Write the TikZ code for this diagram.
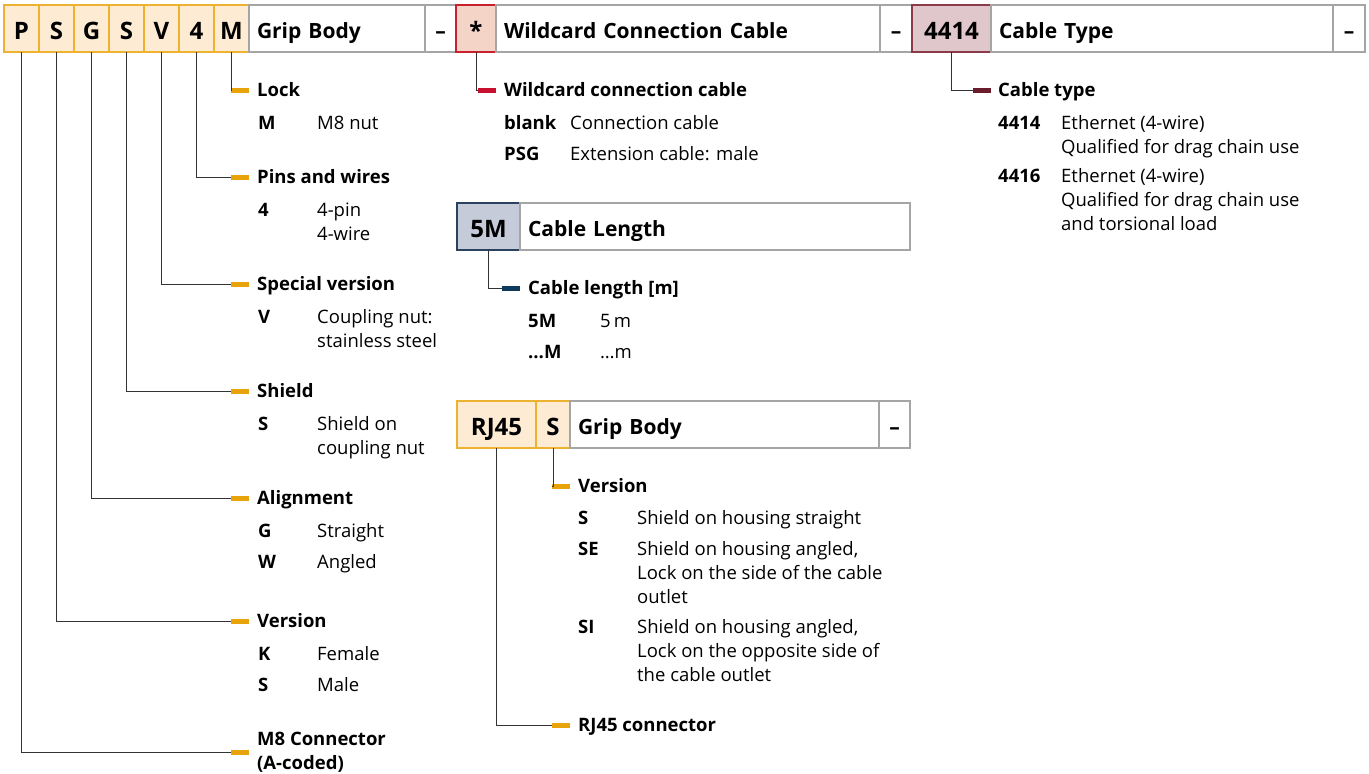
\documentclass[tikz,border=0pt]{standalone}
\usepackage{fontspec}
\setmainfont{Open Sans}
\usetikzlibrary{positioning}

\definecolor{ylfill}{HTML}{FDEBD3}
\definecolor{ylline}{HTML}{EDB22F}
\definecolor{yltick}{HTML}{E8A20A}
\definecolor{rdfill}{HTML}{F5D4C8}
\definecolor{rdline}{HTML}{C8202F}
\definecolor{rdtick}{HTML}{C8102E}
\definecolor{mrfill}{HTML}{E0C7CB}
\definecolor{mrline}{HTML}{8B3A4A}
\definecolor{mrtick}{HTML}{6A1B2C}
\definecolor{blfill}{HTML}{C5CBD9}
\definecolor{blline}{HTML}{2A4260}
\definecolor{bltick}{HTML}{0E3A5E}
\definecolor{grline}{HTML}{A5A5A5}
\definecolor{wirecol}{HTML}{333333}

% first line on the baseline
\newcommand{\desclines}[1]{\begin{tabular}[t]{@{}l@{}}#1\end{tabular}}

\begin{document}
\begin{tikzpicture}[
  x=1pt, y=-1pt,
  font=\fontsize{18.5}{24}\selectfont,
  keybox/.style={draw=#1line, fill=#1fill, line width=1.2pt, minimum height=47pt,
    inner xsep=3pt, inner ysep=0pt, outer sep=0pt, text height=21pt, text depth=0pt,
    font=\fontsize{24}{24}\selectfont\bfseries},
  titlebox/.style={draw=grline, line width=1.2pt, minimum height=47pt, inner xsep=8pt,
    inner ysep=0pt, outer sep=0pt, text width=#1, align=left, text height=19pt,
    text depth=0pt, font=\fontsize{21}{21}\selectfont\bfseries},
  dashbox/.style={draw=grline, line width=1.2pt, minimum height=47pt, inner sep=0pt,
    outer sep=0pt, text height=19pt, text depth=0pt,
    font=\fontsize{21}{21}\selectfont\bfseries},
  tickmark/.style={fill=#1, minimum width=18pt, minimum height=5pt, inner sep=0pt,
    outer sep=0pt, anchor=east},
  lab/.style={anchor=west, inner sep=0pt, text height=13.3pt, text depth=0pt,
    font=\fontsize{18.5}{24}\selectfont\bfseries},
  codetxt/.style={anchor=base west, inner sep=0pt, font=\fontsize{18.5}{24}\selectfont\bfseries},
  desc/.style={anchor=base west, inner sep=0pt},
  wire/.style={draw=wirecol, line width=1pt}
]
\useasboundingbox (0,0) rectangle (1369,774);

% header row
\node[keybox=yl, minimum width=35pt, anchor=north west] (p) at (4,5) {P};
\node[keybox=yl, minimum width=35pt, right=0pt of p] (s1) {S};
\node[keybox=yl, minimum width=35pt, right=0pt of s1] (g) {G};
\node[keybox=yl, minimum width=35pt, right=0pt of g] (s2) {S};
\node[keybox=yl, minimum width=35pt, right=0pt of s2] (v) {V};
\node[keybox=yl, minimum width=35pt, right=0pt of v] (four) {4};
\node[keybox=yl, minimum width=35pt, right=0pt of four] (m) {M};
\node[titlebox=160pt, right=0pt of m] (grip) {Grip Body};
\node[dashbox, minimum width=31pt, right=0pt of grip] (dasha) {–};
\node[keybox=rd, minimum width=40pt, right=0pt of dasha] (star) {*};
\node[titlebox=368pt, right=0pt of star] (wcc) {Wildcard Connection Cable};
\node[dashbox, minimum width=32pt, right=0pt of wcc] (dashb) {–};
\node[keybox=mr, minimum width=79pt, right=0pt of dashb] (ctype) {4414};
\node[titlebox=326pt, right=0pt of ctype] (ctypet) {Cable Type};
\node[dashbox, minimum width=32pt, right=0pt of ctypet] (dashc) {–};

% cable length row
\node[keybox=bl, minimum width=63pt, anchor=north west] (clen) at (457,203) {5M};
\node[titlebox=374pt, right=0pt of clen] (clent) {Cable Length};

% rj45 row
\node[keybox=yl, minimum width=79pt, anchor=north west] (rj) at (457,401) {RJ45};
\node[keybox=yl, minimum width=34pt, right=0pt of rj] (rs) {S};
\node[titlebox=293pt, right=0pt of rs] (grip2) {Grip Body};
\node[dashbox, minimum width=31pt, right=0pt of grip2] (dashd) {–};

% ticks
\node[tickmark=yltick] (tklock) at (249,90) {};
\node[tickmark=yltick] (tkpins) at (249,177) {};
\node[tickmark=yltick] (tkspec) at (249,284) {};
\node[tickmark=yltick] (tkshield) at (249,391) {};
\node[tickmark=yltick] (tkalign) at (249,498) {};
\node[tickmark=yltick] (tkver) at (249,621) {};
\node[tickmark=yltick] (tkmeight) at (249,752) {};
\node[tickmark=rdtick] (tkwild) at (496,90) {};
\node[tickmark=mrtick] (tktype) at (991,90) {};
\node[tickmark=bltick] (tklen) at (520,288) {};
\node[tickmark=yltick] (tkrjver) at (570,486) {};
\node[tickmark=yltick] (tkrj) at (570,725) {};

% labels
\node[lab, right=8pt of tklock] (lock) {Lock};
\node[lab, right=8pt of tkpins] (pins) {Pins and wires};
\node[lab, right=8pt of tkspec] (spec) {Special version};
\node[lab, right=8pt of tkshield] (shield) {Shield};
\node[lab, right=8pt of tkalign] (align) {Alignment};
\node[lab, right=8pt of tkver] (ver) {Version};
\node[anchor=west, inner sep=0pt, align=left, font=\fontsize{18.5}{24}\selectfont\bfseries,
  right=8pt of tkmeight] (meight) {M8 Connector\\(A-coded)};
\node[lab, right=8pt of tkwild] (wild) {Wildcard connection cable};
\node[lab, right=7pt of tktype] (type) {Cable type};
\node[lab, right=8pt of tklen] (len) {Cable length [m]};
\node[lab, right=8pt of tkrjver] (rjver) {Version};
\node[lab, right=8pt of tkrj] (rjcon) {RJ45 connector};

% entries
\node[codetxt] (cm) at (258,129) {M};
\node[desc] (dm) at (317,129) {M8 nut};
\node[codetxt] (c4) at (258,216) {4};
\node[desc] (d4) at (317,216) {\desclines{4-pin\\4-wire}};
\node[codetxt] (cv) at (258,323) {V};
\node[desc] (dv) at (317,323) {\desclines{Coupling nut:\\stainless steel}};
\node[codetxt] (cs) at (258,430) {S};
\node[desc] (ds) at (317,430) {\desclines{Shield on\\coupling nut}};
\node[codetxt] (cg) at (258,537) {G};
\node[desc] (dg) at (317,537) {Straight};
\node[codetxt] (cw) at (258,568) {W};
\node[desc] (dw) at (317,568) {Angled};
\node[codetxt] (ck) at (258,660) {K};
\node[desc] (dk) at (317,660) {Female};
\node[codetxt] (cmale) at (258,691) {S};
\node[desc] (dmale) at (317,691) {Male};

\node[codetxt] (cblank) at (504,129) {blank};
\node[desc] (dblank) at (570,129) {Connection cable};
\node[codetxt] (cpsg) at (504,160) {PSG};
\node[desc] (dpsg) at (570,160) {Extension cable: male};

\node[codetxt] (cfive) at (528,327) {5M};
\node[desc] (dfive) at (600,327) {5\,m};
\node[codetxt] (cdots) at (528,358) {…M};
\node[desc] (ddots) at (600,358) {…m};

\node[codetxt] (crs) at (578,524) {S};
\node[desc] (drs) at (637,524) {Shield on housing straight};
\node[codetxt] (cse) at (578,555) {SE};
\node[desc] (dse) at (637,555) {\desclines{Shield on housing angled,\\Lock on the side of the cable\\outlet}};
\node[codetxt] (csi) at (578,633) {SI};
\node[desc] (dsi) at (637,633) {\desclines{Shield on housing angled,\\Lock on the opposite side of\\the cable outlet}};

\node[codetxt] (cxiv) at (998,129) {4414};
\node[desc] (dxiv) at (1061,129) {\desclines{Ethernet (4-wire)\\Qualified for drag chain use}};
\node[codetxt] (cxvi) at (998,182) {4416};
\node[desc] (dxvi) at (1061,182) {\desclines{Ethernet (4-wire)\\Qualified for drag chain use\\and torsional load}};

% connectors
\draw[wire] (m.south) |- (tklock.west);
\draw[wire] (four.south) |- (tkpins.west);
\draw[wire] (v.south) |- (tkspec.west);
\draw[wire] (s2.south) |- (tkshield.west);
\draw[wire] (g.south) |- (tkalign.west);
\draw[wire] (s1.south) |- (tkver.west);
\draw[wire] (p.south) |- (tkmeight.west);
\draw[wire] (star.south) |- (tkwild.west);
\draw[wire] (ctype.south) |- (tktype.west);
\draw[wire] (clen.south) |- (tklen.west);
\draw[wire] (rs.south) |- (tkrjver.west);
\draw[wire] (rj.south) |- (tkrj.west);
\end{tikzpicture}
\end{document}
